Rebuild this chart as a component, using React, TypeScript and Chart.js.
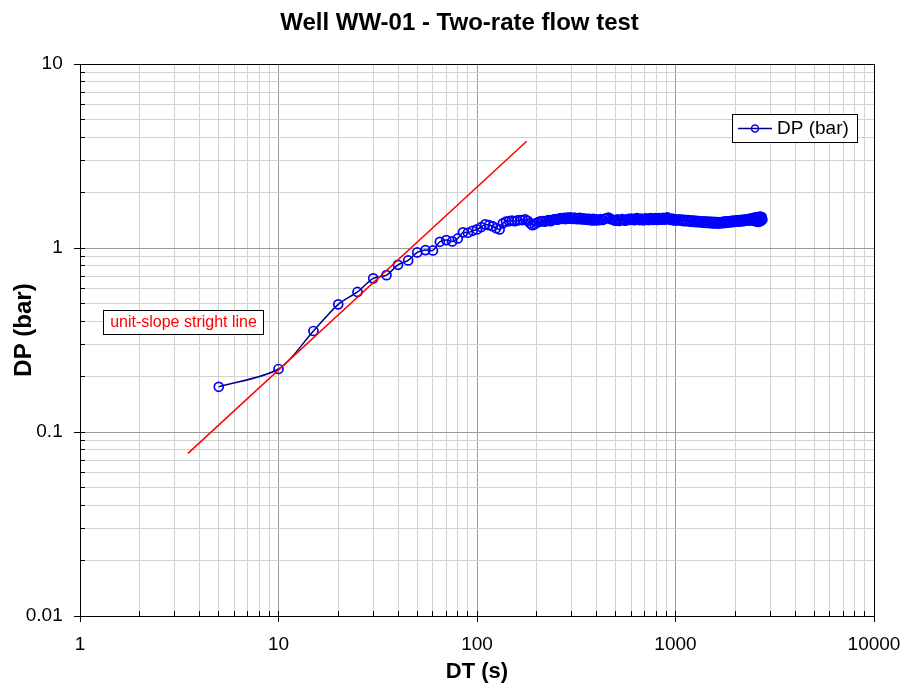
import React, { useEffect, useRef } from 'react';
import { Chart, registerables } from 'chart.js';

Chart.register(...registerables);

// Two-rate flow test, well WW-01: elapsed time DT (s) vs pressure change DP (bar)
const DT_RAMP = [
  5, 10, 15, 20, 25, 30, 35, 40, 45, 50,
  55, 60, 65, 70, 75, 80, 85, 90, 95, 100,
  105, 110, 115, 120, 125, 130, 135, 140, 145, 150,
  155, 160, 165, 170, 175, 180, 185, 190, 195, 200,
];
const DP_RAMP = [
  0.176, 0.220, 0.354, 0.494, 0.577, 0.684, 0.712, 0.810, 0.856, 0.946,
  0.974, 0.970, 1.081, 1.104, 1.086, 1.127, 1.216, 1.210, 1.240, 1.262,
  1.300, 1.344, 1.330, 1.312, 1.280, 1.262, 1.362, 1.392, 1.400, 1.408,
  1.398, 1.412, 1.420, 1.418, 1.430, 1.405, 1.362, 1.330, 1.348, 1.372,
];

const DT_EARLY_PLATEAU = [
  205, 210, 215, 220, 225, 230, 235, 240, 245, 250,
  255, 260, 265, 270, 275, 280, 285, 290, 295, 300,
  305, 310, 315, 320, 325, 330, 335, 340, 345, 350,
  355, 360, 365, 370, 375, 380, 385, 390, 395, 400,
];
const DP_EARLY_PLATEAU = [
  1.385, 1.398, 1.402, 1.390, 1.410, 1.418, 1.400, 1.422, 1.430, 1.436,
  1.424, 1.446, 1.454, 1.440, 1.458, 1.436, 1.462, 1.444, 1.466, 1.450,
  1.440, 1.462, 1.448, 1.434, 1.452, 1.458, 1.432, 1.450, 1.430, 1.446,
  1.424, 1.442, 1.422, 1.440, 1.418, 1.414, 1.438, 1.420, 1.412, 1.430,
];

const DT_MID_PLATEAU = [
  410, 420, 430, 440, 450, 460, 470, 480, 490, 500,
  510, 520, 530, 540, 550, 560, 570, 580, 590, 600,
  610, 620, 630, 640, 650, 660, 670, 680, 690, 700,
  710, 720, 730, 740, 750, 760, 770, 780, 790, 800,
  810, 820, 830, 840, 850, 860, 870, 880, 890, 900,
  910, 920, 930, 940, 950, 960, 970, 980, 990, 1000,
];
const DP_MID_PLATEAU = [
  1.416, 1.436, 1.420, 1.442, 1.452, 1.464, 1.440, 1.428, 1.414, 1.408,
  1.430, 1.404, 1.422, 1.434, 1.414, 1.406, 1.432, 1.442, 1.420, 1.446,
  1.426, 1.416, 1.444, 1.452, 1.428, 1.418, 1.446, 1.426, 1.414, 1.442,
  1.450, 1.424, 1.418, 1.444, 1.452, 1.428, 1.420, 1.446, 1.456, 1.430,
  1.422, 1.448, 1.456, 1.432, 1.424, 1.450, 1.460, 1.434, 1.428, 1.454,
  1.466, 1.446, 1.436, 1.428, 1.422, 1.444, 1.418, 1.436, 1.412, 1.430,
];

const DT_LATE_PLATEAU = [
  1020, 1040, 1060, 1080, 1100, 1120, 1140, 1160, 1180, 1200,
  1220, 1240, 1260, 1280, 1300, 1320, 1340, 1360, 1380, 1400,
  1420, 1440, 1460, 1480, 1500, 1520, 1540, 1560, 1580, 1600,
  1620, 1640, 1660, 1680, 1700, 1720, 1740, 1760, 1780, 1800,
  1820, 1840, 1860, 1880, 1900, 1920, 1940, 1960, 1980, 2000,
  2020, 2040, 2060, 2080, 2100, 2120, 2140, 2160, 2180, 2200,
  2220, 2240, 2260, 2280, 2300, 2320, 2340, 2360, 2380, 2400,
  2420, 2440, 2460, 2480, 2500, 2520, 2540, 2560, 2580, 2600,
  2620, 2640, 2660, 2680, 2700, 2720, 2740,
];
const DP_LATE_PLATEAU = [
  1.412, 1.432, 1.406, 1.426, 1.400, 1.422, 1.398, 1.418, 1.392, 1.414,
  1.388, 1.410, 1.384, 1.406, 1.380, 1.402, 1.376, 1.398, 1.372, 1.396,
  1.370, 1.392, 1.368, 1.390, 1.364, 1.388, 1.362, 1.386, 1.360, 1.384,
  1.360, 1.382, 1.358, 1.380, 1.364, 1.386, 1.366, 1.390, 1.370, 1.394,
  1.374, 1.398, 1.378, 1.402, 1.382, 1.404, 1.384, 1.408, 1.388, 1.410,
  1.390, 1.414, 1.392, 1.416, 1.394, 1.418, 1.398, 1.422, 1.400, 1.424,
  1.404, 1.428, 1.406, 1.432, 1.410, 1.436, 1.412, 1.440, 1.414, 1.446,
  1.418, 1.452, 1.410, 1.458, 1.404, 1.464, 1.398, 1.468, 1.392, 1.474,
  1.386, 1.478, 1.396, 1.482, 1.406, 1.474, 1.430,
];

// Unit-slope reference line (wellbore storage), two end points
const SLOPE_DT = [3.5, 178];
const SLOPE_DP = [0.0765, 3.8];

const X_DECADES = [1, 10, 100, 1000, 10000];
const X_TICK_LABELS = ['1', '10', '100', '1000', '10000'];
const Y_DECADES = [0.01, 0.1, 1, 10];
const Y_TICK_LABELS = ['0.01', '0.1', '1', '10'];

const TITLE = 'Well WW-01 - Two-rate flow test';
const X_TITLE = 'DT (s)';
const Y_TITLE = 'DP (bar)';
const SERIES_LABEL = 'DP (bar)';
const NOTE_TEXT = 'unit-slope stright line';

const FONT = "'Liberation Sans', Arial, Helvetica, sans-serif";
const NAVY = '#000080';
const BLUE = '#0000ff';
const RED = '#ff0000';

const DT_ALL = [...DT_RAMP, ...DT_EARLY_PLATEAU, ...DT_MID_PLATEAU, ...DT_LATE_PLATEAU];
const DP_ALL = [...DP_RAMP, ...DP_EARLY_PLATEAU, ...DP_MID_PLATEAU, ...DP_LATE_PLATEAU];

const isDecade = (v: number, decades: number[]) =>
  decades.some((d) => Math.abs(v - d) <= d * 1e-9);

// 1..9 x 10^n grid positions between the first and last decade
const logGrid = (decades: number[]) => {
  const out: { value: number }[] = [];
  for (let i = 0; i < decades.length - 1; i++) {
    for (let k = 1; k <= 9; k++) {
      out.push({ value: Number((k * decades[i]).toPrecision(12)) });
    }
  }
  out.push({ value: decades[decades.length - 1] });
  return out;
};

const decadeLabel = (decades: number[], labels: string[]) => (value: number | string) => {
  const v = Number(value);
  const i = decades.findIndex((d) => Math.abs(v - d) <= d * 1e-9);
  return i >= 0 ? labels[i] : '';
};

const align = (p: number) => Math.round(p - 0.5) + 0.5;

const frameAndNotes = {
  id: 'frameAndNotes',
  afterDraw(chart: any) {
    const { ctx, chartArea: a, scales } = chart;
    const xs = scales.x;
    const ys = scales.y;
    ctx.save();

    // tick marks: minor ones inside the plot, decade ones crossing the axis
    ctx.strokeStyle = '#000';
    ctx.lineWidth = 1;
    ctx.beginPath();
    xs.ticks.forEach((t: any) => {
      const px = align(xs.getPixelForValue(t.value));
      const major = isDecade(t.value, X_DECADES);
      ctx.moveTo(px, a.bottom + (major ? 6 : 0));
      ctx.lineTo(px, a.bottom - 5);
    });
    ys.ticks.forEach((t: any) => {
      const py = align(ys.getPixelForValue(t.value));
      const major = isDecade(t.value, Y_DECADES);
      ctx.moveTo(a.left - (major ? 6 : 0), py);
      ctx.lineTo(a.left + 5, py);
    });
    ctx.stroke();

    // plot frame
    ctx.strokeRect(align(a.left), align(a.top), Math.round(a.right - a.left), Math.round(a.bottom - a.top));

    // chart title
    ctx.fillStyle = '#000';
    ctx.font = `bold 24px ${FONT}`;
    ctx.textAlign = 'center';
    ctx.textBaseline = 'alphabetic';
    ctx.fillText(TITLE, 459.5, 30);

    // vertical axis title
    ctx.save();
    ctx.translate(24.5, 330);
    ctx.rotate(-Math.PI / 2);
    ctx.font = `bold 24px ${FONT}`;
    ctx.textAlign = 'center';
    ctx.textBaseline = 'middle';
    ctx.fillText(Y_TITLE, 0, 0);
    ctx.restore();

    // legend box
    const lx = a.right - 142;
    const ly = a.top + 50;
    ctx.fillStyle = '#fff';
    ctx.fillRect(lx + 0.5, ly + 0.5, 125, 28);
    ctx.strokeStyle = '#000';
    ctx.lineWidth = 1;
    ctx.strokeRect(lx + 0.5, ly + 0.5, 125, 28);
    const cy = ly + 14.5;
    ctx.strokeStyle = NAVY;
    ctx.lineWidth = 1.5;
    ctx.beginPath();
    ctx.moveTo(lx + 6, cy);
    ctx.lineTo(lx + 40, cy);
    ctx.stroke();
    ctx.strokeStyle = BLUE;
    ctx.beginPath();
    ctx.arc(lx + 23, cy, 3.5, 0, Math.PI * 2);
    ctx.stroke();
    ctx.fillStyle = '#000';
    ctx.font = `19px ${FONT}`;
    ctx.textAlign = 'left';
    ctx.textBaseline = 'middle';
    ctx.fillText(SERIES_LABEL, lx + 45, cy + 0.5);

    // note on the reference line
    const nx = a.left + 23;
    const ny = a.top + 246;
    ctx.fillStyle = '#fff';
    ctx.fillRect(nx + 0.5, ny + 0.5, 160, 24);
    ctx.strokeStyle = '#000';
    ctx.lineWidth = 1;
    ctx.strokeRect(nx + 0.5, ny + 0.5, 160, 24);
    ctx.fillStyle = RED;
    ctx.font = `16px ${FONT}`;
    ctx.textAlign = 'center';
    ctx.textBaseline = 'middle';
    ctx.fillText(NOTE_TEXT, nx + 80.5, ny + 13);

    ctx.restore();
  },
};

const gridColor = (decades: number[]) => (c: any) =>
  c.tick && isDecade(c.tick.value, decades) ? '#9a9a9a' : '#d2d2d2';

export default function App() {
  const canvasRef = useRef<HTMLCanvasElement | null>(null);

  useEffect(() => {
    if (!canvasRef.current) return;
    const chart = new Chart(canvasRef.current, {
      type: 'line',
      data: {
        datasets: [
          {
            label: SERIES_LABEL,
            data: DT_ALL.map((x, i) => ({ x, y: DP_ALL[i] })),
            borderColor: NAVY,
            borderWidth: 1.5,
            tension: 0.3,
            pointStyle: 'circle',
            pointRadius: 4.5,
            pointBorderColor: BLUE,
            pointBackgroundColor: 'transparent',
            pointBorderWidth: 1.7,
            order: 1,
          },
          {
            label: 'unit slope',
            data: SLOPE_DT.map((x, i) => ({ x, y: SLOPE_DP[i] })),
            borderColor: RED,
            borderWidth: 1.5,
            pointRadius: 0,
            tension: 0,
            order: 0,
          },
        ],
      },
      options: {
        responsive: false,
        animation: false,
        events: [],
        layout: { padding: { top: 64, right: 31, left: 0, bottom: 0 } },
        plugins: {
          legend: { display: false },
          title: { display: false },
          tooltip: { enabled: false },
        },
        scales: {
          x: {
            type: 'logarithmic',
            position: 'bottom',
            min: 1,
            max: 10000,
            afterBuildTicks: (s: any) => {
              s.ticks = logGrid(X_DECADES);
            },
            afterFit: (s: any) => {
              s.height = 78;
              s.paddingLeft = 0;
              s.paddingRight = 0;
            },
            border: { display: false },
            grid: { color: gridColor(X_DECADES), lineWidth: 1, drawTicks: false },
            ticks: {
              autoSkip: false,
              maxRotation: 0,
              minRotation: 0,
              padding: 17.7,
              color: '#000',
              font: { family: FONT, size: 19 },
              callback: decadeLabel(X_DECADES, X_TICK_LABELS),
            },
            title: {
              display: true,
              text: X_TITLE,
              color: '#000',
              font: { family: FONT, size: 22, weight: 'bold' },
              padding: { top: 0, bottom: 8.4 },
            },
          },
          y: {
            type: 'logarithmic',
            position: 'left',
            min: 0.01,
            max: 10,
            afterBuildTicks: (s: any) => {
              s.ticks = logGrid(Y_DECADES);
            },
            afterFit: (s: any) => {
              s.width = 80;
              s.paddingTop = 0;
              s.paddingBottom = 0;
            },
            border: { display: false },
            grid: { color: gridColor(Y_DECADES), lineWidth: 1, drawTicks: false },
            ticks: {
              autoSkip: false,
              padding: 17.3,
              color: '#000',
              font: { family: FONT, size: 19 },
              callback: decadeLabel(Y_DECADES, Y_TICK_LABELS),
            },
            title: { display: false },
          },
        },
      },
      plugins: [frameAndNotes],
    } as any);
    return () => chart.destroy();
  }, []);

  return (
    <div style={{ position: 'absolute', left: 0, top: 0, width: 905, height: 694, background: '#fff' }}>
      <canvas ref={canvasRef} width={905} height={694} style={{ display: 'block', width: 905, height: 694 }} />
    </div>
  );
}
